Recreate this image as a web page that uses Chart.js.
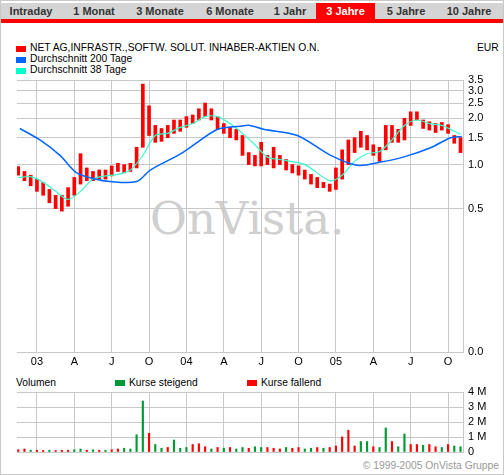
<!DOCTYPE html>
<html><head><meta charset="utf-8">
<script src="https://cdn.jsdelivr.net/npm/chart.js@4"></script>
<style>
body{margin:0;width:504px;height:475px;overflow:hidden;background:#fff;font-family:"Liberation Sans",Arial,sans-serif;}
#frame{position:absolute;left:0;top:0;width:502px;height:473px;border:1px solid #c8c8c8;}
.tabs{position:absolute;left:1px;top:3px;width:502px;height:16px;background:#d4d4d4;border-bottom:4px solid #f00;}
.tab{position:absolute;top:0;height:16px;line-height:16px;font-size:11px;font-weight:bold;color:#333;text-align:center;}
.act{background:#f00;color:#fff;}
.t{position:absolute;font-size:10.3px;color:#000;white-space:nowrap;line-height:12px;}
.sq{position:absolute;width:10px;height:6px;}
canvas{position:absolute;left:0;top:0;}
#wm{position:absolute;left:150px;top:192px;font-family:"DejaVu Serif","Liberation Serif",serif;font-size:45px;color:#cfcfcf;}
</style></head><body>
<div id="frame"></div>
<div class="tabs">
<div class="tab" style="left:0;width:60px">Intraday</div>
<div class="tab" style="left:62px;width:62px">1 Monat</div>
<div class="tab" style="left:126px;width:66px">3 Monate</div>
<div class="tab" style="left:196px;width:66px">6 Monate</div>
<div class="tab" style="left:262px;width:54px">1 Jahr</div>
<div class="tab act" style="left:315px;width:59px">3 Jahre</div>
<div class="tab" style="left:376px;width:58px">5 Jahre</div>
<div class="tab" style="left:436px;width:64px">10 Jahre</div>
</div>
<div id="wm">OnVista.</div>
<div class="sq" style="left:16px;top:46px;background:#f00"></div><div class="t" style="left:30px;top:42px">NET AG,INFRASTR.,SOFTW. SOLUT. INHABER-AKTIEN O.N.</div>
<div class="t" style="left:477px;top:42px">EUR</div>
<div class="sq" style="left:16px;top:57px;background:#0066ff"></div><div class="t" style="left:30px;top:53px">Durchschnitt 200 Tage</div>
<div class="sq" style="left:16px;top:68px;background:#00ffcc"></div><div class="t" style="left:30px;top:64px">Durchschnitt 38 Tage</div>
<div class="t" style="left:16px;top:377px">Volumen</div>
<div class="sq" style="left:115px;top:380px;background:#009933"></div><div class="t" style="left:129px;top:377px">Kurse steigend</div>
<div class="sq" style="left:247px;top:380px;background:#f00"></div><div class="t" style="left:261px;top:377px">Kurse fallend</div>
<div class="t" style="right:5px;top:460px;color:#999">© 1999-2005 OnVista Gruppe</div>
<canvas id="c1" width="504" height="475"></canvas>
<canvas id="c2" width="504" height="475"></canvas>
<script>
// x positions: months since Jan 2003 (semi-monthly samples)
const times = [];
for (let i = 0; i < 72; i++) times.push(-1.5 + 0.5 * i);
const lows = [0.85,0.78,0.72,0.66,0.62,0.55,0.50,0.48,0.52,0.62,0.74,0.78,0.78,0.80,0.80,0.84,0.90,0.88,0.90,0.95,1.30,1.55,1.40,1.42,1.50,1.60,1.65,1.75,1.85,1.95,2.05,1.95,1.70,1.60,1.50,1.45,1.15,1.00,0.98,0.98,1.00,0.95,1.00,0.92,0.88,0.85,0.80,0.74,0.70,0.70,0.66,0.68,0.80,1.00,1.20,1.30,1.25,1.15,1.05,1.25,1.40,1.40,1.45,1.80,1.95,1.72,1.68,1.62,1.68,1.60,1.38,1.20];
const highs = [0.97,0.90,0.85,0.80,0.76,0.68,0.62,0.62,0.70,0.82,1.18,0.95,0.90,0.92,0.92,0.98,1.02,1.00,1.02,1.30,3.30,2.40,1.80,1.72,1.80,1.95,1.95,2.05,2.10,2.30,2.50,2.30,2.05,1.85,1.75,1.70,1.55,1.20,1.15,1.40,1.15,1.30,1.15,1.08,1.00,0.98,0.92,0.86,0.82,0.76,0.74,0.95,1.25,1.45,1.50,1.65,1.55,1.35,1.30,1.80,1.80,1.70,2.00,2.20,2.20,1.95,1.90,1.85,1.88,1.82,1.55,1.50];
const ma38T = [-1.5,-0.5,0.5,1.5,2.5,3.5,4.5,5.5,6.5,7.5,8.5,9.5,10.5,11.5,12.5,13.5,14.5,15.5,16.5,17.5,18.5,19.5,21.5,23.5,24.5,25.5,26.5,27.5,28.5,29.5,30.5,31.5,32.5,33.5,34.0];
const ma38V = [0.82,0.83,0.76,0.66,0.58,0.66,0.80,0.84,0.86,0.92,1.15,1.55,1.60,1.75,1.85,2.05,2.05,1.85,1.60,1.35,1.12,1.08,1.00,0.78,0.85,1.05,1.18,1.22,1.45,1.80,1.95,1.85,1.80,1.65,1.58];
const ma200T = [-1.37,0.24,1.85,3.2,4.66,5.86,8.0,9.1,11.7,14.5,16.3,17.1,18.2,20.9,23.5,25.7,27.6,29.4,31.6,33.2,34.1];
const ma200V = [1.72,1.45,1.15,0.88,0.80,0.77,0.77,0.92,1.20,1.70,1.78,1.80,1.70,1.55,1.16,0.99,1.04,1.12,1.29,1.50,1.53];
const vol = [0.15,0.2,0.12,0.12,0.1,0.12,0.1,0.12,0.12,0.15,0.2,0.12,0.15,0.12,0.12,0.15,0.2,0.25,0.2,1.15,3.4,1.25,0.5,0.25,0.3,0.8,0.25,0.3,0.5,0.55,0.35,0.2,0.3,0.25,0.3,0.2,0.3,0.25,0.35,0.3,0.3,0.25,0.2,0.3,0.25,0.3,0.2,0.25,0.3,0.25,0.3,0.4,1.0,1.45,0.4,0.7,0.7,0.35,0.3,1.6,0.7,0.35,1.2,0.5,0.5,0.45,0.5,0.35,0.3,0.5,0.4,0.35];
const volDir = "ddudduddduudududduuuuduuduuudddududuuduudddudduududdddduuduuduuddudduduud";
const priceTicks = [0, 0.5, 1.0, 1.5, 2.0, 2.5, 3.0, 3.5];
const monthTicks = [0,3,6,9,12,15,18,21,24,27,30,33];
const monthLabels = ["03","A","J","O","04","A","J","O","05","A","J","O"];
const volTicks = [0,1,2,3,4];

const OFF = 0.075;
const tr = v => Math.log(v + OFF);
const XMIN = -1.6, XMAX = 34.2;
const grid = '#c8c8c8';
const font = {family:'"Liberation Sans",Arial,sans-serif', size:11};

new Chart(document.getElementById('c1'), {
  type:'bar',
  data:{datasets:[
    {type:'line', data: ma200T.map((t,i)=>({x:t,y:tr(ma200V[i])})), borderColor:'#0066ff', borderWidth:1.5, pointRadius:0, tension:0.3},
    {type:'line', data: ma38T.map((t,i)=>({x:t,y:tr(ma38V[i])})), borderColor:'#33ffcc', borderWidth:1.2, pointRadius:0, tension:0.3},
    {data: times.map((t,i)=>({x:t,y:[tr(lows[i]),tr(highs[i])]})), backgroundColor:'#ff0000', barThickness:3}
  ]},
  options:{responsive:false, animation:false, events:[],
    layout:{padding:{left:17,top:80,right:0,bottom:105}},
    plugins:{legend:{display:false},tooltip:{enabled:false}},
    scales:{
      x:{type:'linear', offset:false, min:XMIN, max:XMAX, afterFit:s=>{s.height=18;},
         afterBuildTicks:s=>{s.ticks=monthTicks.map(v=>({value:v}));},
         ticks:{font, color:'#000', autoSkip:false, maxRotation:0, padding:3, callback:(v)=>monthLabels[monthTicks.indexOf(v)]},
         grid:{color:grid, drawTicks:false, offset:false}, border:{color:grid}},
      y:{type:'linear', position:'right', min:tr(0), max:tr(3.5), afterFit:s=>{s.width=41;},
         afterBuildTicks:s=>{s.ticks=priceTicks.map(v=>({value:tr(v)}));},
         ticks:{font, color:'#000', padding:5, autoSkip:false, callback:(v)=>(Math.exp(v)-OFF).toFixed(1)},
         grid:{color:grid, drawTicks:false}, border:{color:grid}}
    }}
});

new Chart(document.getElementById('c2'), {
  type:'bar',
  data:{datasets:[
    {data: times.map((t,i)=>({x:t,y:vol[i]})), backgroundColor: times.map((t,i)=>volDir[i]==='u'?'#009933':'#ff0000'), barThickness:1.5}
  ]},
  options:{responsive:false, animation:false, events:[],
    layout:{padding:{left:17,top:392,right:0,bottom:23}},
    plugins:{legend:{display:false},tooltip:{enabled:false}},
    scales:{
      x:{type:'linear', offset:false, min:XMIN, max:XMAX, afterFit:s=>{s.height=0;},
         afterBuildTicks:s=>{s.ticks=monthTicks.map(v=>({value:v}));},
         ticks:{display:false}, grid:{color:grid, drawTicks:false, offset:false}, border:{color:grid}},
      y:{position:'right', min:0, max:4, afterFit:s=>{s.width=41;},
         afterBuildTicks:s=>{s.ticks=volTicks.map(v=>({value:v}));},
         ticks:{font, color:'#000', padding:5, autoSkip:false, callback:(v)=>v===0?'0':v+' M'},
         grid:{color:grid, drawTicks:false}, border:{color:grid}}
    }}
});
</script>
</body></html>
